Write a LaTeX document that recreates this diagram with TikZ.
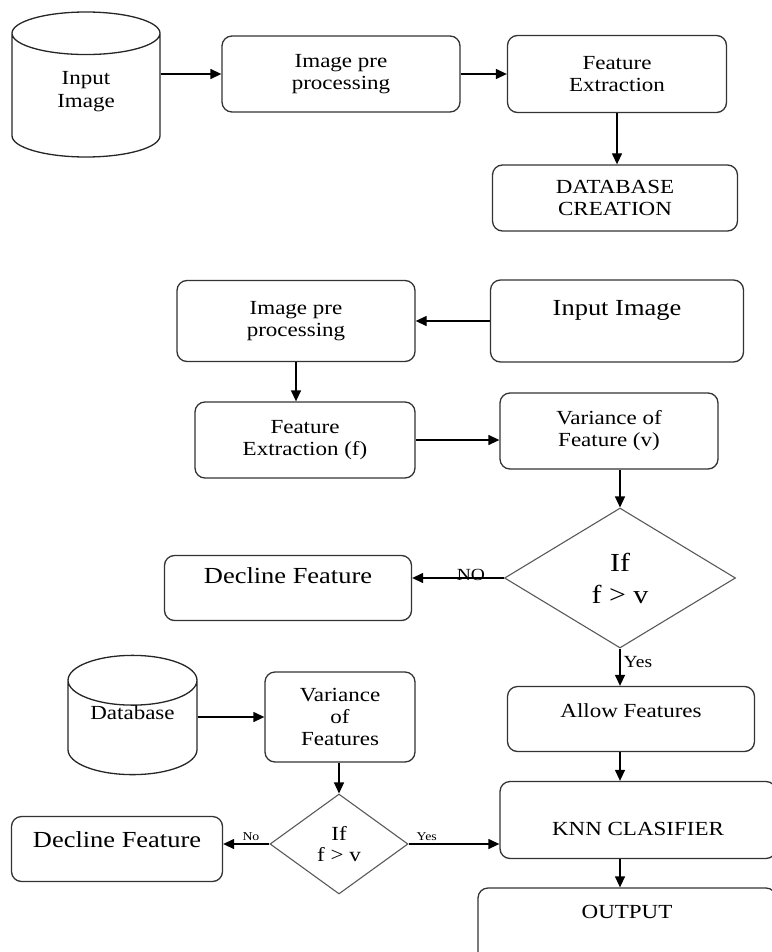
\documentclass[tikz,border=0pt]{standalone}
\usepackage{fontspec}
\setmainfont[FakeStretch=1.15]{Liberation Serif}
\usepackage{tikz}
\usetikzlibrary{shapes.geometric}
\usetikzlibrary{arrows.meta}
\usepackage{xcolor}

\begin{document}
\begin{tikzpicture}[x=1pt,y=-1pt,>={Triangle[length=11pt,width=10pt]},
                    line width=1.3pt,
                    box/.style={rectangle,draw=black!80,rounded corners=10pt,align=center,inner sep=0pt,font=\fontsize{20}{22}\selectfont},
                    bigbox/.style={box,font=\fontsize{23}{26}\selectfont},
                    store/.style={cylinder,shape border rotate=90,anchor=shape center,draw=black!85,align=center,inner sep=0pt,font=\fontsize{20}{23}\selectfont},
                    test/.style={diamond,draw=black!65,line width=1.1pt,align=center,inner sep=0pt},
                    lbl/.style={font=\fontsize{17}{18}\selectfont,inner sep=0pt},
                    smalllbl/.style={font=\fontsize{12}{13}\selectfont,inner sep=0pt}]
  \useasboundingbox (0,0) rectangle (771,952);
  % Nodes
    \node[store,aspect=0.74,minimum width=148pt,minimum height=145pt] (cyl1) at (86,84.5) {Input\\Image\\[-11pt]\mbox{}};
    \node[box,minimum width=238pt,minimum height=76pt] (ipp1) at (341,74) {Image pre\\processing};
    \node[box,minimum width=219pt,minimum height=77pt] (fe1) [right of=ipp1, node distance=276pt] {Feature\\Extraction};
    \node[box,minimum width=245pt,minimum height=66pt] (dbc) [below of=fe1, node distance=124pt, xshift=-2pt] {DATABASE\\CREATION};

    \node[bigbox,minimum width=253pt,minimum height=82pt,text height=16pt,text depth=28pt] (inimg) [below of=dbc, node distance=123pt, xshift=2pt] {Input Image};
    \node[box,minimum width=238pt,minimum height=81pt] (ipp2) [left of=inimg, node distance=321pt] {Image pre\\processing};
    \node[box,minimum width=220pt,minimum height=76pt] (fe2) [below of=ipp2, node distance=119pt, xshift=9pt] {Feature\\Extraction (f)};
    \node[box,minimum width=218pt,minimum height=76pt] (var) [right of=fe2, node distance=304pt, yshift=9pt] {Variance of\\Feature (v)};
    \node[test,minimum width=231pt,minimum height=140pt,font=\fontsize{26}{32}\selectfont] (d1) [below of=var, node distance=147pt, xshift=11pt] {If\\f > v};
    \node[bigbox,minimum width=247pt,minimum height=65pt,text height=16pt,text depth=25pt] (dec1) [left of=d1, node distance=332pt, yshift=-10pt] {Decline Feature};

    \node[box,minimum width=247pt,minimum height=65pt,text height=14pt,text depth=17pt] (allow) [below of=d1, node distance=141pt, xshift=11pt] {Allow Features};
    \node[box,minimum width=276pt,minimum height=77pt,text height=30pt,text depth=0pt] (knn) [below of=allow, node distance=101pt, xshift=7pt] {KNN CLASIFIER};
    \node[box,minimum width=298pt,minimum height=74pt,text height=14pt,text depth=28pt] (output) [below of=knn, node distance=105pt, xshift=-11pt] {OUTPUT};
    \node[box,minimum width=150pt,minimum height=90pt] (varF) [left of=allow, node distance=291pt, yshift=2pt] {Variance\\of\\Features};
    \node[store,aspect=0.59,minimum width=129pt,minimum height=110pt,text height=14pt,text depth=30pt] (db) at (132.5,715) {Database};
    \node[test,minimum width=138pt,minimum height=100pt,font=\fontsize{20}{21}\selectfont] (d2) [below of=varF, node distance=127pt, xshift=-1pt] {If\\f > v};
    \node[bigbox,minimum width=211pt,minimum height=65pt,text height=16pt,text depth=19pt] (dec2) [left of=d2, node distance=222pt, yshift=-5pt] {Decline Feature};

  % Edges
    \draw[->] (cyl1.east |- ipp1.west) -- (ipp1.west);
    \draw[->] (ipp1) -- (fe1);
    \draw[->] (fe1) -- (fe1 |- dbc.north);
    \draw[->] (inimg) -- (ipp2);
    \draw[->] (ipp2.south) -- (ipp2.south |- fe2.north);
    \draw[->] (fe2.east) -- (fe2.east -| var.west);
    \draw[->] (var.south -| d1) -- (d1.north);
    \draw[->] (d1.west) -- node[lbl,pos=0.36,anchor=base,yshift=-2pt] {NO} (d1.west -| dec1.east);
    \draw[->] (d1.south) -- node[lbl,pos=0.5,anchor=base west,xshift=3pt] {Yes} (d1.south |- allow.north);
    \draw[->] (d1 |- allow.south) -- (d1 |- knn.north);
    \draw[->] (d1 |- knn.south) -- (d1 |- output.north);
    \draw[->] (db.east |- varF) -- (varF.west);
    \draw[->] (varF.south -| d2) -- (d2.north);
    \draw[->] (d2.west) -- node[smalllbl,pos=0.4,anchor=base,yshift=4pt] {No} (d2.west -| dec2.east);
    \draw[->] (d2.east) -- node[smalllbl,pos=0.2,anchor=base,yshift=4pt] {Yes} (d2.east -| knn.west);
\end{tikzpicture}
\end{document}
